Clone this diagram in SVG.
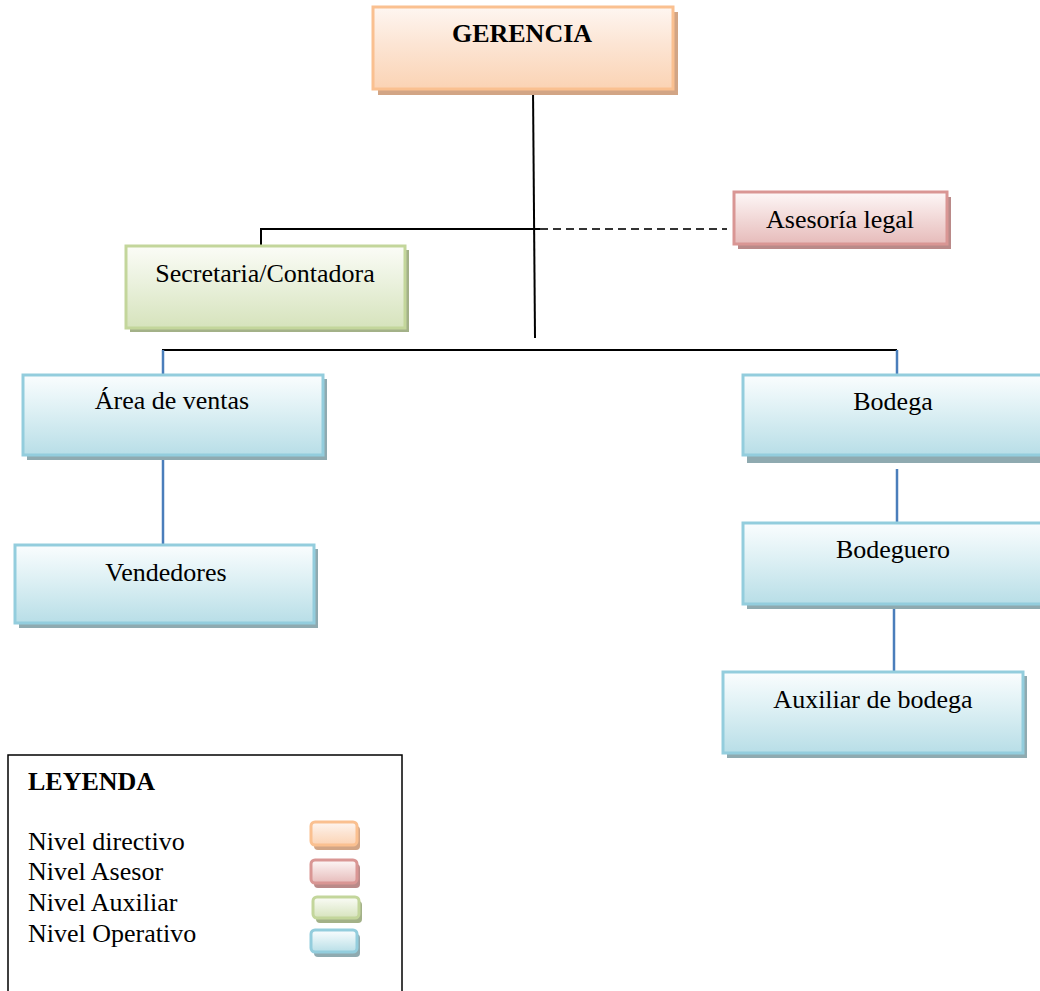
<svg xmlns="http://www.w3.org/2000/svg" width="1040" height="991" viewBox="0 0 1040 991">
<defs>
<linearGradient id="gO" x1="0" y1="0" x2="0" y2="1"><stop offset="0" stop-color="#FEF6F1"/><stop offset="0.45" stop-color="#FCE5D4"/><stop offset="1" stop-color="#FBD3B4"/></linearGradient>
<linearGradient id="gR" x1="0" y1="0" x2="0" y2="1"><stop offset="0" stop-color="#FDF7F7"/><stop offset="0.45" stop-color="#F3DCDB"/><stop offset="1" stop-color="#E6BBBA"/></linearGradient>
<linearGradient id="gG" x1="0" y1="0" x2="0" y2="1"><stop offset="0" stop-color="#FBFCF7"/><stop offset="0.45" stop-color="#EAF1DD"/><stop offset="1" stop-color="#D6E3BC"/></linearGradient>
<linearGradient id="gB" x1="0" y1="0" x2="0" y2="1"><stop offset="0" stop-color="#FAFDFE"/><stop offset="0.45" stop-color="#DDF0F4"/><stop offset="1" stop-color="#B8DEE7"/></linearGradient>
<style>
.t{font-family:"Liberation Serif","Times New Roman",serif;font-size:26px;fill:#000}
.b{font-weight:bold}
.m{text-anchor:middle}
.o{fill:url(#gO);stroke:#FAC090;stroke-width:3}
.r{fill:url(#gR);stroke:#D99694;stroke-width:3}
.g{fill:url(#gG);stroke:#C3D69B;stroke-width:3}
.u{fill:url(#gB);stroke:#93CDDD;stroke-width:3}
.so{fill:#D2A585}
.sr{fill:#BA8A89}
.sg{fill:#A3B188}
.su{fill:#8FAAB0}
.k{stroke:#000;stroke-width:2;fill:none}
.bl{stroke:#4A7EBB;stroke-width:2.5;fill:none}
</style>
</defs>
<rect width="1040" height="991" fill="#fff"/>
<g id="connectors">
<path class="k" d="M533,89 L535,338"/>
<path class="k" d="M261,246 L261,229 L540,229"/>
<path d="M540,229 L727,229" stroke="#333" stroke-width="2" stroke-dasharray="8,5" fill="none"/>
<path class="k" d="M162,350 L897,350"/>
<path class="bl" d="M163,350 L163,375"/>
<path class="bl" d="M897,350 L897,375"/>
<path class="bl" d="M163,455 L163,545"/>
<path class="bl" d="M897,469 L897,523"/>
<path class="bl" d="M894,604 L894,672"/>
</g>
<g id="gerencia">
<rect class="so" x="378" y="12" width="300" height="83"/>
<rect class="o" x="373" y="7" width="300" height="82"/>
<text class="t b m" x="522" y="42">GERENCIA</text>
</g>
<g id="asesoria">
<rect class="sr" x="738" y="197" width="213" height="52"/>
<rect class="r" x="734" y="192" width="213" height="52"/>
<text class="t m" x="840" y="228">Asesoría legal</text>
</g>
<g id="secretaria">
<rect class="sg" x="130" y="250" width="279" height="82"/>
<rect class="g" x="126" y="246" width="279" height="82"/>
<text class="t m" x="265" y="282">Secretaria/Contadora</text>
</g>
<g id="ventas">
<rect class="su" x="27" y="379" width="300" height="81"/>
<rect class="u" x="23" y="375" width="300" height="80"/>
<text class="t m" x="172" y="409">Área de ventas</text>
</g>
<g id="vendedores">
<rect class="su" x="19" y="549" width="299" height="79"/>
<rect class="u" x="15" y="545" width="299" height="78"/>
<text class="t m" x="166" y="581">Vendedores</text>
</g>
<g id="bodega">
<rect class="su" x="747" y="379" width="310" height="84"/>
<rect class="u" x="743" y="375" width="310" height="80"/>
<text class="t m" x="893" y="410">Bodega</text>
</g>
<g id="bodeguero">
<rect class="su" x="747" y="527" width="310" height="82"/>
<rect class="u" x="743" y="523" width="310" height="81"/>
<text class="t m" x="893" y="558">Bodeguero</text>
</g>
<g id="auxiliar">
<rect class="su" x="727" y="676" width="300" height="82"/>
<rect class="u" x="723" y="672" width="300" height="81"/>
<text class="t m" x="873" y="708">Auxiliar de bodega</text>
</g>
<g id="leyenda">
<rect x="8" y="755" width="394" height="260" fill="none" stroke="#000" stroke-width="1.5"/>
<text class="t b" x="28" y="790">LEYENDA</text>
<text class="t" x="28" y="850">Nivel directivo</text>
<text class="t" x="28" y="880">Nivel Asesor</text>
<text class="t" x="28" y="911">Nivel Auxiliar</text>
<text class="t" x="28" y="942">Nivel Operativo</text>
<rect class="so" x="314" y="826" width="46" height="24" rx="4"/>
<rect class="o" x="311" y="822" width="46" height="23" rx="4" stroke-width="2"/>
<rect class="sr" x="314" y="864" width="46" height="24" rx="4"/>
<rect class="r" x="311" y="860" width="46" height="23" rx="4" stroke-width="2"/>
<rect class="sg" x="316" y="901" width="46" height="22" rx="4"/>
<rect class="g" x="313" y="897" width="46" height="21" rx="4" stroke-width="2"/>
<rect class="su" x="314" y="934" width="46" height="23" rx="4"/>
<rect class="u" x="311" y="930" width="46" height="22" rx="4" stroke-width="2"/>
</g>
</svg>
